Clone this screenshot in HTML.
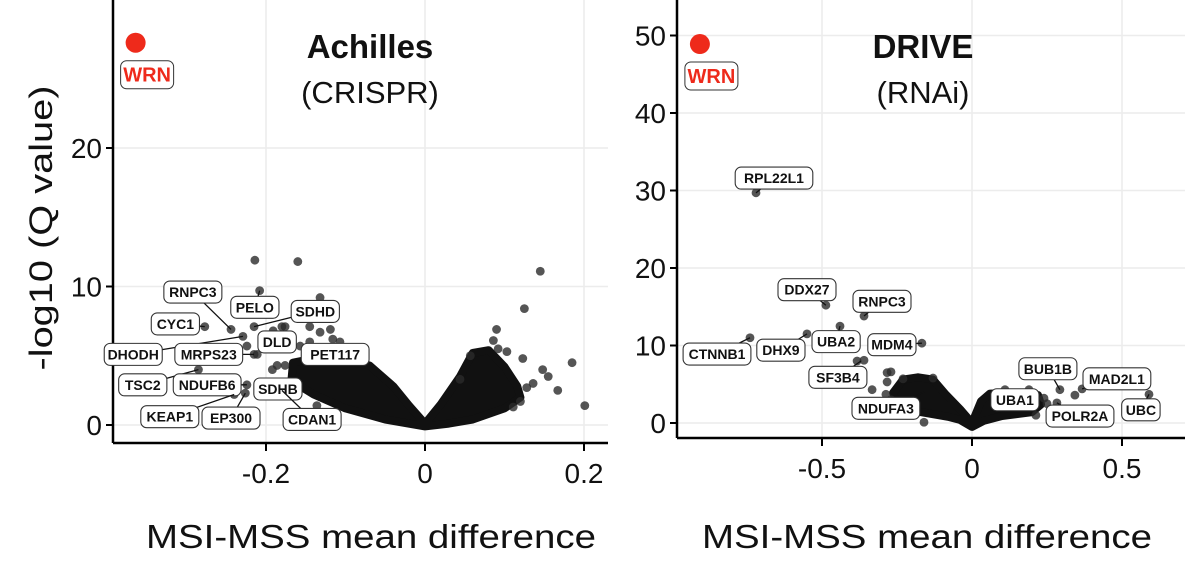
<!DOCTYPE html>
<html><head><meta charset="utf-8">
<style>
html,body{margin:0;padding:0;background:#fff;}
svg{display:block;font-family:"Liberation Sans",Arial,sans-serif;}
</style></head>
<body>
<svg id="chart" width="1200" height="569" viewBox="0 0 1200 569"></svg>
<script>
// ---------- Achilles (CRISPR) data ----------
const achX = [-0.214,-0.160,0.145,-0.208,0.125,-0.277,-0.244,-0.215,-0.229,0.09,0.185,0.201,-0.285,-0.224,-0.191,-0.180,-0.145,-0.132,0.123,0.167,0.148,0.155,0.092,0.086,0.136,0.111,-0.224,-0.197,-0.211,-0.176,-0.157,-0.116,-0.119,-0.215,-0.14,-0.19,-0.24,-0.226,-0.18,-0.176,-0.132,-0.107,0.103,0.12,0.128,-0.145,-0.186,-0.192,-0.136,0.057,0.044];
const achY = [11.9,11.8,11.1,9.7,8.4,7.1,6.9,7.1,6.4,6.9,4.5,1.4,4.0,2.9,6.8,7.1,7.1,9.2,4.8,2.5,4.0,3.5,5.5,6.1,3.0,1.3,5.7,5.5,5.1,4.3,5.7,6.2,6.9,5.1,5.1,3.0,2.2,2.3,2.5,7.1,6.7,6.0,5.3,1.7,2.7,6.0,4.3,4.0,1.4,5.0,3.3];
const achCloudX = [-0.168,-0.166,-0.14,-0.10,-0.07,-0.04,-0.02,0,0.02,0.044,0.06,0.08,0.10,0.116,0.12,0.10,0.06,0.03,0,-0.05,-0.10,-0.14];
const achCloudY = [3.2,4.5,4.8,4.6,4.3,2.8,1.4,0.1,1.5,3.5,5.2,5.4,4.2,2.8,2.0,1.2,0.4,0.1,-0.1,0.4,1.2,2.2];
const achLabels = ["RNPC3","PELO","SDHD","CYC1","DLD","DHODH","MRPS23","PET117","TSC2","NDUFB6","SDHB","KEAP1","EP300","CDAN1"];
const achLabX = [-0.292,-0.214,-0.138,-0.314,-0.186,-0.367,-0.272,-0.113,-0.355,-0.274,-0.185,-0.321,-0.244,-0.142];
const achLabY = [9.6,8.5,8.2,7.3,6.0,5.1,5.1,5.1,2.9,2.9,2.6,0.6,0.5,0.4];
const achPtX = [-0.244,-0.208,-0.215,-0.277,-0.18,-0.229,-0.215,-0.14,-0.285,-0.224,-0.19,-0.24,-0.226,-0.18];
const achPtY = [6.9,9.7,7.1,7.1,5.5,6.4,5.1,5.1,4.0,2.9,3.0,2.2,2.3,2.5];
const achXTicks = [-0.2,0,0.2];
const achXTickLabels = ["-0.2","0","0.2"];
const achYTicks = [0,10,20];
const achYTickLabels = ["0","10","20"];
const achWRN = [-0.364,27.6];

// ---------- DRIVE (RNAi) data ----------
const drvX = [-0.72,-0.487,-0.36,-0.44,-0.55,-0.74,-0.167,-0.383,-0.36,-0.283,-0.27,-0.283,-0.333,-0.287,-0.13,-0.23,-0.16,0.293,0.367,0.343,0.59,0.283,0.11,0.19,0.213,0.25,0.24,-0.25,-0.27];
const drvY = [29.7,15.2,13.8,12.5,11.5,11.0,10.3,8.0,8.1,6.5,6.6,5.3,4.3,3.7,5.8,5.7,0.1,4.3,4.4,3.6,3.7,2.6,4.3,4.3,1.0,2.5,3.2,1.0,3.0];
const drvCloudX = [-0.263,-0.23,-0.18,-0.13,-0.09,-0.04,0,0.03,0.06,0.15,0.22,0.23,0.20,0.10,0.04,0,-0.04,-0.08,-0.20,-0.25];
const drvCloudY = [3.9,5.6,5.9,5.6,3.8,1.8,0,2.8,3.8,3.9,3.6,2.4,1.4,0.9,0.3,-0.5,0.4,0.8,1.6,2.5];
const drvLabels = ["RPL22L1","DDX27","RNPC3","CTNNB1","DHX9","UBA2","MDM4","SF3B4","NDUFA3","BUB1B","MAD2L1","UBA1","POLR2A","UBC"];
const drvLabX = [-0.66,-0.55,-0.30,-0.85,-0.637,-0.453,-0.267,-0.447,-0.287,0.253,0.483,0.143,0.36,0.563];
const drvLabY = [31.6,17.2,15.7,8.9,9.4,10.5,10.1,5.9,1.9,7.0,5.7,3.0,0.9,1.7];
const drvPtX = [-0.72,-0.487,-0.36,-0.74,-0.55,-0.44,-0.167,-0.37,-0.16,0.293,0.367,0.11,0.283,0.59];
const drvPtY = [29.7,15.2,13.8,11.0,11.5,12.5,10.3,8.0,4.0,4.3,4.4,4.3,2.6,3.7];
const drvXTicks = [-0.5,0,0.5];
const drvXTickLabels = ["-0.5","0","0.5"];
const drvYTicks = [0,10,20,30,40,50];
const drvYTickLabels = ["0","10","20","30","40","50"];
const drvWRN = [-0.907,48.9];

const NS="http://www.w3.org/2000/svg";
const svg=document.getElementById('chart');
function mk(tag,attrs,parent){const e=document.createElementNS(NS,tag);for(const k in attrs)e.setAttribute(k,attrs[k]);(parent||svg).appendChild(e);return e;}

function panel(cfg){
  const g=mk('g',{});
  
  
  const sx=v=>cfg.x0+cfg.kx*v, sy=v=>cfg.y0-cfg.ky*v;
  const B=cfg.bottom;
  cfg.xt.forEach(t=>{const l=mk('line',{x1:sx(t),x2:sx(t),y1:0,y2:B,stroke:'#ececec','stroke-width':1.5},g);
    });
  cfg.yt.forEach(t=>{const l=mk('line',{x1:cfg.left,x2:cfg.right,y1:sy(t),y2:sy(t),stroke:'#ececec','stroke-width':1.5},g);
    });
  const ax=mk('line',{x1:cfg.left,x2:cfg.left,y1:0,y2:B,stroke:'#000','stroke-width':2.5},g);
  
  const bx=mk('line',{x1:cfg.left,x2:cfg.right,y1:B,y2:B,stroke:'#000','stroke-width':2.5},g);
  
  cfg.yt.forEach((t,i)=>{
    mk('line',{x1:cfg.left-7,x2:cfg.left,y1:sy(t),y2:sy(t),stroke:'#000','stroke-width':2},g);
    const tx=mk('text',{x:cfg.left-11,y:sy(t)+10,'text-anchor':'end','font-size':28,fill:'#111'},g);
    tx.textContent=cfg.ytl[i];
    
  });
  cfg.xt.forEach((t,i)=>{
    mk('line',{x1:sx(t),x2:sx(t),y1:B,y2:B+8,stroke:'#000','stroke-width':2},g);
    const tx=mk('text',{x:sx(t),y:B+40,'text-anchor':'middle','font-size':28,fill:'#111'},g);
    tx.textContent=cfg.xtl[i];
    
  });
  let d='';cfg.cx.forEach((v,i)=>{d+=(i?'L':'M')+sx(v).toFixed(1)+' '+sy(cfg.cy[i]).toFixed(1);});d+='Z';
  const c=mk('path',{d:d,fill:'#111',stroke:'#111','stroke-width':8,'stroke-linejoin':'round'},g);
  
  cfg.px.forEach((v,i)=>{
    const p=mk('circle',{cx:sx(v),cy:sy(cfg.py[i]),r:4.4,fill:'#2a2a2a','fill-opacity':0.8},g);
    
  });
  cfg.lab.forEach((s,i)=>{
    const lx=sx(cfg.lx[i]), ly=sy(cfg.ly[i]);
    mk('line',{x1:lx,y1:ly,x2:sx(cfg.lpx[i]),y2:sy(cfg.lpy[i]),stroke:'#111','stroke-width':1.3},g);
    const w=s.length*9.8+9;
    const r=mk('rect',{x:lx-w/2,y:ly-11,width:w,height:22,rx:6,fill:'#fff',stroke:'#333','stroke-width':1.1},g);
    
    const t=mk('text',{x:lx,y:ly+5,'text-anchor':'middle','font-size':14,'font-weight':'bold',fill:'#111'},g);
    t.textContent=s;
    
  });
  const wx=sx(cfg.wrn[0]),wy=sy(cfg.wrn[1]);
  const wd=mk('circle',{cx:wx,cy:wy,r:10,fill:'#ee2a1b'},g);
  
  const wb=mk('rect',{x:wx-15,y:wy+18,width:53,height:28,rx:6,fill:'#fff',stroke:'#333','stroke-width':1},g);
  
  const wt=mk('text',{x:wx+11.5,y:wy+39,'text-anchor':'middle','font-size':20,'font-weight':'bold',fill:'#ee2a1b'},g);
  wt.textContent='WRN';
  
  const t1=mk('text',{x:cfg.tx,y:58,'text-anchor':'middle','font-size':33,'font-weight':'bold',fill:'#111'},g);
  t1.textContent=cfg.title;
  
  const t2=mk('text',{x:cfg.tx,y:103,'text-anchor':'middle','font-size':31,fill:'#111'},g);
  t2.textContent=cfg.sub;
  
  const xt=mk('text',{x:cfg.xtx,y:548,'text-anchor':'middle','font-size':33,fill:'#111',textLength:450,lengthAdjust:'spacingAndGlyphs'},g);
  xt.textContent='MSI-MSS mean difference';
  
}

panel({name:'achilles-panel',x0:425,kx:795,y0:425,ky:13.85,left:113,right:608,bottom:443,
  xt:achXTicks,xtl:achXTickLabels,yt:achYTicks,ytl:achYTickLabels,cx:achCloudX,cy:achCloudY,
  px:achX,py:achY,lab:achLabels,lx:achLabX,ly:achLabY,lpx:achPtX,lpy:achPtY,wrn:achWRN,
  tx:370,title:'Achilles',sub:'(CRISPR)',xtx:371});
panel({name:'drive-panel',x0:972,kx:300,y0:423,ky:7.75,left:677,right:1185,bottom:438,
  xt:drvXTicks,xtl:drvXTickLabels,yt:drvYTicks,ytl:drvYTickLabels,cx:drvCloudX,cy:drvCloudY,
  px:drvX,py:drvY,lab:drvLabels,lx:drvLabX,ly:drvLabY,lpx:drvPtX,lpy:drvPtY,wrn:drvWRN,
  tx:923,title:'DRIVE',sub:'(RNAi)',xtx:927});

const yt=mk('text',{x:0,y:0,'text-anchor':'middle','font-size':32,fill:'#111',textLength:285,lengthAdjust:'spacingAndGlyphs',transform:'translate(52,228) rotate(-90)'});
yt.textContent='-log10 (Q value)';


</script>
</body></html>
